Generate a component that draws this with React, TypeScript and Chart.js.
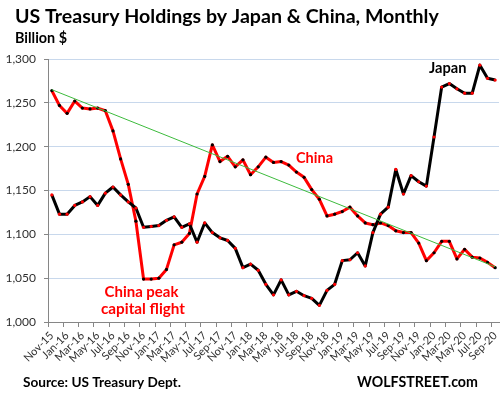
import React, { useEffect, useRef } from 'react';
import { Chart, registerables } from 'chart.js';

Chart.register(...registerables);

const months = [
  'Nov-15', 'Dec-15', 'Jan-16', 'Feb-16', 'Mar-16', 'Apr-16', 'May-16', 'Jun-16', 'Jul-16', 'Aug-16', 'Sep-16', 'Oct-16',
  'Nov-16', 'Dec-16', 'Jan-17', 'Feb-17', 'Mar-17', 'Apr-17', 'May-17', 'Jun-17', 'Jul-17', 'Aug-17', 'Sep-17', 'Oct-17',
  'Nov-17', 'Dec-17', 'Jan-18', 'Feb-18', 'Mar-18', 'Apr-18', 'May-18', 'Jun-18', 'Jul-18', 'Aug-18', 'Sep-18', 'Oct-18',
  'Nov-18', 'Dec-18', 'Jan-19', 'Feb-19', 'Mar-19', 'Apr-19', 'May-19', 'Jun-19', 'Jul-19', 'Aug-19', 'Sep-19', 'Oct-19',
  'Nov-19', 'Dec-19', 'Jan-20', 'Feb-20', 'Mar-20', 'Apr-20', 'May-20', 'Jun-20', 'Jul-20', 'Aug-20', 'Sep-20',
];

const china = [
  1264, 1247, 1238, 1252, 1244, 1243, 1244, 1241, 1218, 1186, 1157, 1115,
  1049, 1049, 1050, 1060, 1088, 1091, 1101, 1146, 1166, 1202, 1183, 1189,
  1177, 1185, 1168, 1177, 1188, 1182, 1183, 1179, 1171, 1165, 1151, 1140,
  1121, 1123, 1126, 1131, 1121, 1113, 1111, 1113, 1110, 1104, 1102, 1102,
  1090, 1070, 1079, 1092, 1092, 1072, 1083, 1074, 1073, 1068, 1062,
];

const japan = [
  1145, 1123, 1123, 1133, 1137, 1143, 1133, 1147, 1154, 1145, 1137, 1130,
  1108, 1109, 1110, 1116, 1120, 1108, 1112, 1091, 1113, 1102, 1096, 1093,
  1084, 1062, 1066, 1059, 1043, 1031, 1048, 1031, 1035, 1030, 1027, 1019,
  1036, 1043, 1070, 1071, 1079, 1064, 1102, 1123, 1131, 1174, 1146, 1167,
  1160, 1155, 1211, 1268, 1272, 1266, 1261, 1261, 1293, 1278, 1276,
];

// China trend line: values at the first and last month
const trendStart = 1265;
const trendEnd = 1063;

const yMin = 1000;
const yMax = 1300;
const yStep = 50;

const TITLE = 'US Treasury Holdings by Japan & China, Monthly';
const SUBTITLE = 'Billion $';
const SOURCE = 'Source: US Treasury Dept.';
const BRAND = 'WOLFSTREET.com';

const FONT = 'Lato, "Liberation Sans", sans-serif';

const trend = months.map((_, i) => (i === 0 ? trendStart : i === months.length - 1 ? trendEnd : null));

function fitText(
  ctx: CanvasRenderingContext2D,
  text: string,
  x: number,
  y: number,
  width: number,
  color: string,
  align: CanvasTextAlign = 'left'
) {
  ctx.font = `bold 100px ${FONT}`;
  const w = ctx.measureText(text).width;
  const size = (100 * width) / w;
  ctx.font = `bold ${size}px ${FONT}`;
  ctx.fillStyle = color;
  ctx.textAlign = align;
  ctx.fillText(text, x, y);
}

const textPlugin = {
  id: 'texts',
  afterDraw(chart: any) {
    const ctx = chart.ctx as CanvasRenderingContext2D;
    ctx.save();
    ctx.textBaseline = 'alphabetic';
    fitText(ctx, TITLE, 15, 23, 424, '#000');
    fitText(ctx, SUBTITLE, 15, 43, 52, '#000');
    fitText(ctx, 'Japan', 429, 73, 37.5, '#000');
    fitText(ctx, 'China', 296, 163, 37, '#ff0000');
    fitText(ctx, 'China peak', 141.5, 297, 74, '#ff0000', 'center');
    fitText(ctx, 'capital flight', 143, 314, 84, '#ff0000', 'center');
    fitText(ctx, SOURCE, 23, 387, 158, '#000');
    fitText(ctx, BRAND, 357, 387, 121, '#000');
    ctx.restore();
  },
};

export default function App() {
  const ref = useRef<HTMLCanvasElement | null>(null);

  useEffect(() => {
    if (!ref.current) return;
    const chart = new Chart(ref.current, {
      type: 'line',
      data: {
        labels: months,
        datasets: [
          {
            label: 'Trend',
            data: trend,
            borderColor: '#3dbb3d',
            borderWidth: 1,
            pointRadius: 0,
            spanGaps: true,
            order: 0,
          },
          {
            label: 'Japan',
            data: japan,
            borderColor: '#000000',
            borderWidth: 3,
            borderJoinStyle: 'round',
            pointRadius: 1.6,
            pointBorderWidth: 0,
            pointBackgroundColor: '#ff0000',
            tension: 0,
            order: 1,
          },
          {
            label: 'China',
            data: china,
            borderColor: '#ff0000',
            borderWidth: 3,
            borderJoinStyle: 'round',
            pointRadius: 1.6,
            pointBorderWidth: 0,
            pointBackgroundColor: '#000000',
            tension: 0,
            order: 2,
          },
        ],
      },
      options: {
        responsive: false,
        animation: false,
        layout: { padding: { top: 59, right: 1, left: 0, bottom: 0 } },
        plugins: {
          legend: { display: false },
          tooltip: { enabled: false },
          title: { display: false },
        },
        scales: {
          x: {
            type: 'category',
            offset: true,
            grid: {
              offset: true,
              drawOnChartArea: false,
              drawTicks: true,
              tickLength: 5,
              color: (c: any) => (c.index % 2 === 0 ? '#868686' : 'rgba(0,0,0,0)'),
            },
            border: { color: '#868686', width: 1 },
            ticks: {
              autoSkip: false,
              maxRotation: 45,
              minRotation: 45,
              padding: 2,
              color: '#303030',
              font: { family: FONT, size: 11 },
              callback: (_v: any, i: number) => (i % 2 === 0 ? months[i] : ''),
            },
            afterFit: (s: any) => {
              s.height = 76;
              s.paddingLeft = 0;
              s.paddingRight = 0;
            },
          },
          y: {
            min: yMin,
            max: yMax,
            grid: {
              color: '#c8d8ec',
              lineWidth: 1,
              tickColor: '#868686',
              tickLength: 4,
            },
            border: { color: '#868686', width: 1 },
            ticks: {
              stepSize: yStep,
              padding: 8,
              color: '#303030',
              font: { family: FONT, size: 12 },
              callback: (v: any) => Number(v).toLocaleString('en-US'),
            },
            afterFit: (s: any) => {
              s.width = 48;
            },
          },
        },
      },
      plugins: [textPlugin],
    });
    return () => chart.destroy();
  }, []);

  return (
    <div style={{ position: 'absolute', left: 0, top: 0, width: 503, height: 398, background: '#fff' }}>
      <canvas ref={ref} width={503} height={398} style={{ display: 'block' }} />
    </div>
  );
}
